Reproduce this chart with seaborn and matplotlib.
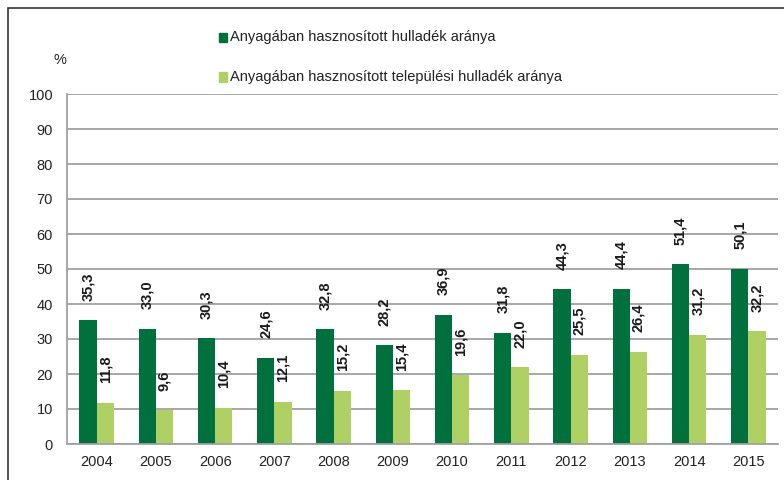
import matplotlib
matplotlib.use("Agg")
import matplotlib.pyplot as plt
from matplotlib.patches import Rectangle
import seaborn as sns
import pandas as pd

years = ["2004", "2005", "2006", "2007", "2008", "2009",
         "2010", "2011", "2012", "2013", "2014", "2015"]
osszes = [35.3, 33.0, 30.3, 24.6, 32.8, 28.2, 36.9, 31.8, 44.3, 44.4, 51.4, 50.1]
telepulesi = [11.8, 9.6, 10.4, 12.1, 15.2, 15.4, 19.6, 22.0, 25.5, 26.4, 31.2, 32.2]
series = ["Anyagában hasznosított hulladék aránya",
          "Anyagában hasznosított települési hulladék aránya"]
colors = ["#00703c", "#afd163"]

sns.set_style("white")
plt.rcParams["font.family"] = ["Liberation Sans", "DejaVu Sans"]

df = pd.DataFrame({
    "ev": years * 2,
    "ertek": osszes + telepulesi,
    "sor": [series[0]] * len(years) + [series[1]] * len(years),
})

fig = plt.figure(figsize=(7.84, 4.8), dpi=100)
ax = fig.add_axes([67 / 784, 36 / 480, 711 / 784, 350 / 480])

sns.barplot(data=df, x="ev", y="ertek", hue="sor", palette=colors,
            width=0.58, saturation=1, linewidth=0, ax=ax, legend=False)

# value labels, rotated, a bit above the bars
for cont in ax.containers:
    for bar in cont:
        h = bar.get_height()
        ax.annotate(f"{h:.1f}".replace(".", ","),
                    (bar.get_x() + bar.get_width() / 2, h),
                    xytext=(0, 14), textcoords="offset points",
                    rotation=90, ha="center", va="bottom",
                    fontsize=10.5, fontweight="bold", color="#1a1a1a")

ax.set_ylim(0, 100)
ax.set_xlim(-0.5, len(years) - 0.5)
ax.set_yticks(range(0, 101, 10))
ax.yaxis.grid(True, color="#a0a0a0", linewidth=1.3)
ax.set_axisbelow(True)
ax.set_xlabel("")
ax.set_ylabel("")

for s in ["top", "right"]:
    ax.spines[s].set_visible(False)
for s in ["left", "bottom"]:
    ax.spines[s].set_color("#a0a0a0")
    ax.spines[s].set_linewidth(1.3)

# ticks between categories on x, outward ticks on y
ax.set_xticks([i + 0.5 for i in range(-1, len(years))], minor=True)
ax.tick_params(axis="x", which="minor", length=5, color="#a0a0a0", width=1.3)
ax.tick_params(axis="x", which="major", length=0, labelsize=10.5, pad=8)
ax.tick_params(axis="y", length=5, color="#a0a0a0", width=1.3,
               labelsize=10.5, pad=5)
for lbl in ax.get_xticklabels() + ax.get_yticklabels():
    lbl.set_color("#222222")

fig.text(60 / 784, 1 - 60 / 480, "%", fontsize=10.5, color="#222222",
         ha="center", va="center")

# legend, two stacked rows
for i, (name, c) in enumerate(zip(series, colors)):
    y = 1 - (37 + 40 * i) / 480
    fig.patches.append(Rectangle((219 / 784, y - 4.5 / 480), 8 / 784, 9 / 480,
                                 transform=fig.transFigure, color=c,
                                 figure=fig))
    fig.text(230 / 784, y, name, fontsize=10.5, color="#222222",
             ha="left", va="center")

# outer frame
fig.patches.append(Rectangle((7.5 / 784, -0.2), 1.2, 1.2 - 7.5 / 480,
                             transform=fig.transFigure, fill=False,
                             edgecolor="#333333", linewidth=1.2, figure=fig))

fig.savefig("out.png", dpi=100)
